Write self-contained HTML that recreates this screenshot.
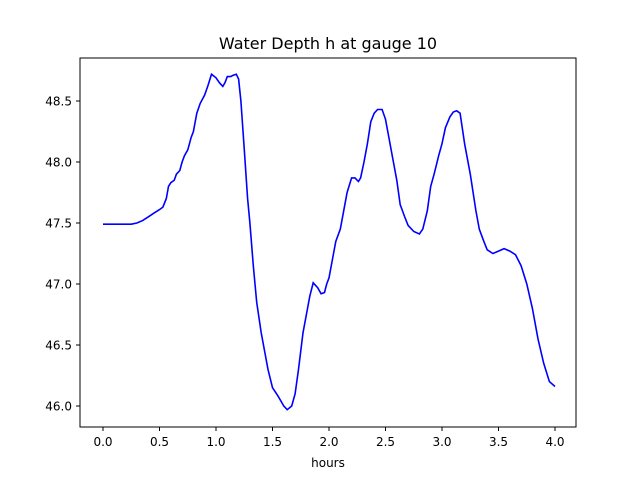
<!DOCTYPE html>
<html><head><meta charset="utf-8"><style>
body{margin:0;background:#fff;}
svg{display:block;font-family:"DejaVu Sans","Liberation Sans",sans-serif;}
</style></head><body>
<svg id="chart" width="640" height="480">
<rect x="0" y="0" width="640" height="480" fill="#fff"/>
<text x="328" y="49" font-size="16" text-anchor="middle">Water Depth h at gauge 10</text>
<text x="328" y="467" font-size="12" text-anchor="middle">hours</text>
<g id="axes"></g>
<path id="line" fill="none" stroke="#0000ff" stroke-width="1.6"/>
<rect x="80" y="58" width="496" height="369" fill="none" stroke="#000" stroke-width="1"/>
</svg>
<script>
const times=[0,0.25,0.3,0.35,0.4,0.45,0.5,0.53,0.56,0.58,0.6,0.63,0.65,0.68,0.7,0.72,0.75,0.78,0.8,0.83,0.86,0.9,0.93,0.96,1.0,1.03,1.06,1.08,1.1,1.13,1.15,1.18,1.2,1.22,1.25,1.28,1.3,1.33,1.36,1.4,1.43,1.46,1.5,1.55,1.6,1.63,1.67,1.7,1.73,1.77,1.8,1.83,1.86,1.9,1.93,1.96,1.98,2.0,2.03,2.06,2.1,2.13,2.16,2.2,2.23,2.26,2.28,2.31,2.34,2.37,2.4,2.43,2.47,2.5,2.53,2.57,2.6,2.63,2.67,2.7,2.75,2.8,2.83,2.87,2.9,2.93,2.97,3.0,3.03,3.07,3.1,3.13,3.16,3.2,3.25,3.3,3.33,3.37,3.4,3.45,3.5,3.55,3.6,3.65,3.7,3.75,3.8,3.85,3.9,3.95,4.0];
const depths=[47.49,47.49,47.5,47.52,47.55,47.58,47.61,47.63,47.7,47.8,47.83,47.85,47.9,47.93,48.0,48.05,48.1,48.2,48.25,48.4,48.48,48.55,48.63,48.72,48.69,48.65,48.62,48.65,48.7,48.7,48.71,48.72,48.68,48.5,48.1,47.7,47.5,47.15,46.85,46.6,46.45,46.3,46.15,46.08,46.0,45.97,46.0,46.1,46.3,46.6,46.75,46.9,47.01,46.97,46.92,46.93,47.0,47.05,47.2,47.35,47.45,47.6,47.75,47.87,47.87,47.84,47.87,48.0,48.15,48.33,48.4,48.43,48.43,48.35,48.2,48.0,47.85,47.65,47.55,47.48,47.43,47.41,47.45,47.6,47.8,47.9,48.05,48.15,48.28,48.37,48.41,48.42,48.4,48.15,47.9,47.6,47.45,47.35,47.28,47.25,47.27,47.29,47.27,47.24,47.15,47.0,46.8,46.55,46.35,46.2,46.16];
const xTicks=["0.0","0.5","1.0","1.5","2.0","2.5","3.0","3.5","4.0"];
const yTicks=["46.0","46.5","47.0","47.5","48.0","48.5"];
const xs=v=>103+v*113;
const ys=v=>406-(v-46)*122;
const NS="http://www.w3.org/2000/svg";
const axes=document.getElementById('axes');
xTicks.forEach(t=>{
  const x=xs(parseFloat(t));
  const l=document.createElementNS(NS,'line');
  l.setAttribute('x1',x);l.setAttribute('x2',x);l.setAttribute('y1',427);l.setAttribute('y2',431);l.setAttribute('stroke','#000');
  
  
  axes.appendChild(l);
  const tx=document.createElementNS(NS,'text');
  tx.setAttribute('x',x);tx.setAttribute('y',446);tx.setAttribute('font-size','12');tx.setAttribute('text-anchor','middle');
  tx.textContent=t;
  
  
  axes.appendChild(tx);
});
yTicks.forEach(t=>{
  const y=ys(parseFloat(t));
  const l=document.createElementNS(NS,'line');
  l.setAttribute('x1',76);l.setAttribute('x2',80);l.setAttribute('y1',y);l.setAttribute('y2',y);l.setAttribute('stroke','#000');
  
  
  axes.appendChild(l);
  const tx=document.createElementNS(NS,'text');
  tx.setAttribute('x',72);tx.setAttribute('y',y+4.5);tx.setAttribute('font-size','12');tx.setAttribute('text-anchor','end');
  tx.textContent=t;
  
  
  axes.appendChild(tx);
});
let d='';
times.forEach((t,i)=>{d+=(i?'L':'M')+xs(t).toFixed(1)+' '+ys(depths[i]).toFixed(1);});
document.getElementById('line').setAttribute('d',d);
</script>
</body></html>
